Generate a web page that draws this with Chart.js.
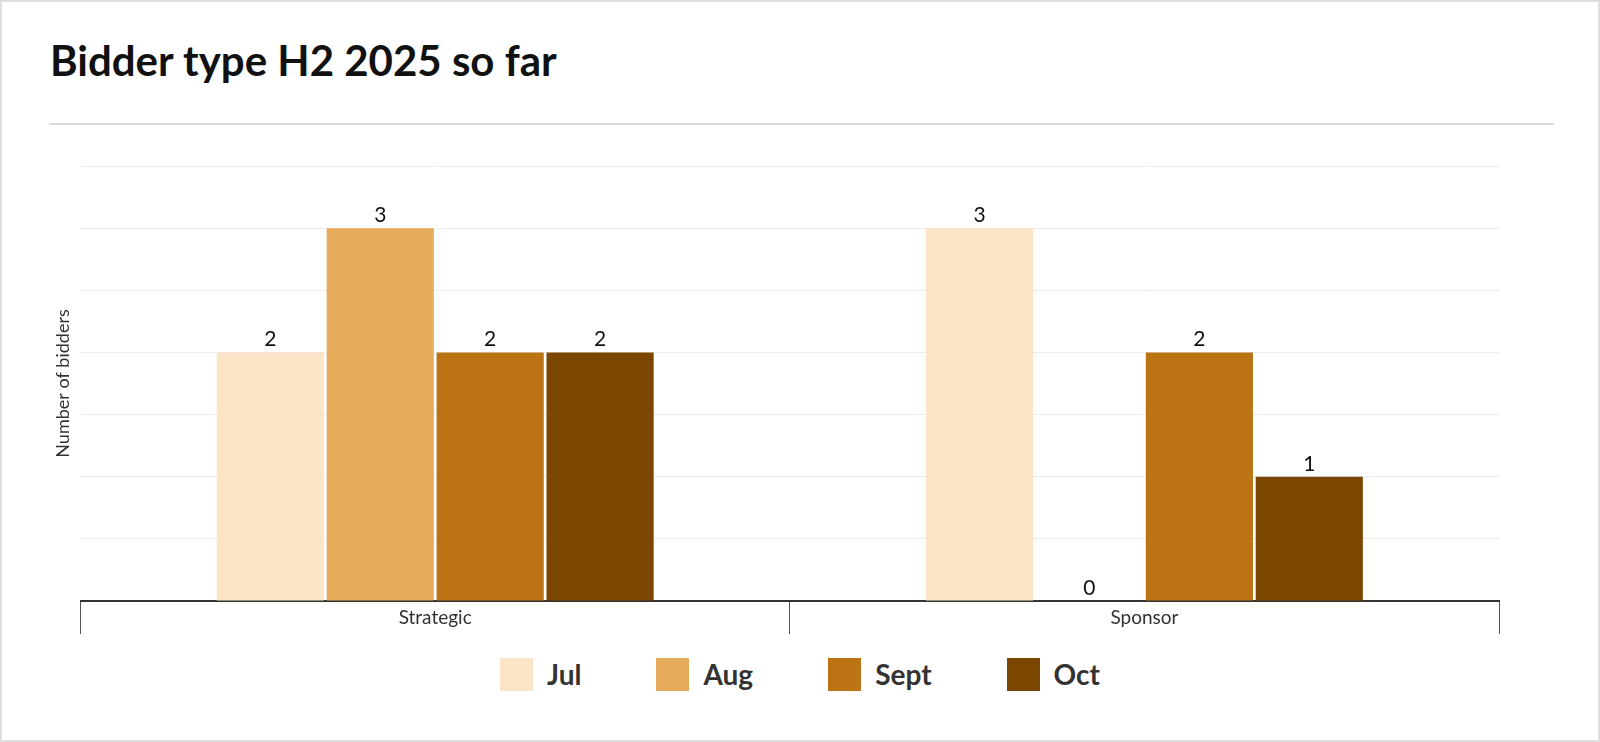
<!DOCTYPE html>
<html>
<head>
<meta charset="utf-8">
<script src="https://cdn.jsdelivr.net/npm/chart.js@4/dist/chart.umd.min.js"></script>
<style>
  html, body { margin: 0; padding: 0; background: #fff; }
  body { width: 1600px; height: 742px; position: relative; overflow: hidden; font-family: Lato, "Open Sans", sans-serif; }
  #frame { position: absolute; left: 0; top: 0; width: 1596px; height: 738px; border: 2px solid #dedede; }
  #title { position: absolute; left: 50px; top: 35px; margin: 0; font-size: 42px; font-weight: 700; color: #111; line-height: 50px; }
  #rule { position: absolute; left: 49px; top: 123px; width: 1505px; height: 2px; background: #dcdcdc; }
  #wrap { position: absolute; left: 0; top: 140px; width: 1600px; height: 501px; }
  #legend { position: absolute; left: 0; top: 658px; width: 1600px; display: flex; justify-content: center; align-items: center; }
  .item { display: flex; align-items: center; }
  .item + .item { margin-left: 75px; }
  .box { width: 33px; height: 33px; margin-right: 14px; }
  .lbl { font-size: 28px; font-weight: 700; color: #333; line-height: 33px; }
</style>
</head>
<body>
<div id="frame"></div>
<h1 id="title">Bidder type H2 2025 so far</h1>
<div id="rule"></div>
<div id="wrap"><canvas id="c"></canvas></div>
<div id="legend"></div>
<script>
const categories = ["Strategic", "Sponsor"];
const seriesNames = ["Jul", "Aug", "Sept", "Oct"];
const julValues = [2, 3];
const augValues = [3, 0];
const septValues = [2, 2];
const octValues = [2, 1];
const seriesColors = ["#FCE5C6", "#E7AC5B", "#BB7313", "#7B4600"];
const yAxisTitle = "Number of bidders";

const allValues = [julValues, augValues, septValues, octValues];
const FONT = 'Lato, "Open Sans", sans-serif';

const valueLabels = {
  id: 'valueLabels',
  afterDatasetsDraw(chart) {
    const ctx = chart.ctx;
    ctx.save();
    ctx.font = '21px ' + FONT;
    ctx.fillStyle = '#111';
    ctx.textAlign = 'center';
    ctx.textBaseline = 'alphabetic';
    chart.data.datasets.forEach((ds, i) => {
      const meta = chart.getDatasetMeta(i);
      meta.data.forEach((bar, j) => {
        ctx.fillText(String(ds.data[j]), bar.x, bar.y - 6);
      });
    });
    ctx.restore();
  }
};

const categoryLabels = {
  id: 'categoryLabels',
  afterDraw(chart) {
    const ctx = chart.ctx;
    const xs = chart.scales.x;
    ctx.save();
    ctx.font = '19px ' + FONT;
    ctx.fillStyle = '#333';
    ctx.textAlign = 'center';
    ctx.textBaseline = 'middle';
    chart.data.labels.forEach((lab, i) => {
      ctx.fillText(lab, xs.getPixelForTick(i), xs.top + 17);
    });
    ctx.restore();
  }
};

new Chart(document.getElementById('c'), {
  type: 'bar',
  data: {
    labels: categories,
    datasets: seriesNames.map((name, i) => ({
      label: name,
      data: allValues[i],
      backgroundColor: seriesColors[i],
      borderWidth: 0,
      barPercentage: 0.975,
      categoryPercentage: 0.62
    }))
  },
  options: {
    responsive: true,
    maintainAspectRatio: false,
    animation: false,
    layout: { padding: { left: 48, right: 101, top: 26, bottom: 7 } },
    plugins: {
      legend: { display: false },
      tooltip: { enabled: false }
    },
    scales: {
      x: {
        grid: { display: true, drawOnChartArea: false, drawTicks: true, tickLength: 33, color: '#555', lineWidth: 1, offset: true },
        border: { display: true, color: '#333', width: 2 },
        ticks: { display: false }
      },
      y: {
        min: 0, max: 3.5,
        ticks: { display: false, stepSize: 0.5 },
        grid: { color: '#ececec', lineWidth: 1, drawTicks: false },
        border: { display: false },
        title: { display: true, text: yAxisTitle, color: '#333', padding: { top: 4, bottom: 7 }, font: { family: FONT, size: 18 } }
      }
    }
  },
  plugins: [valueLabels, categoryLabels]
});

const legendEl = document.getElementById('legend');
seriesNames.forEach((name, i) => {
  const item = document.createElement('div');
  item.className = 'item';
  const box = document.createElement('div');
  box.className = 'box';
  box.style.background = seriesColors[i];
  const lbl = document.createElement('span');
  lbl.className = 'lbl';
  lbl.textContent = name;
  item.appendChild(box);
  item.appendChild(lbl);
  legendEl.appendChild(item);
});
</script>
</body>
</html>
